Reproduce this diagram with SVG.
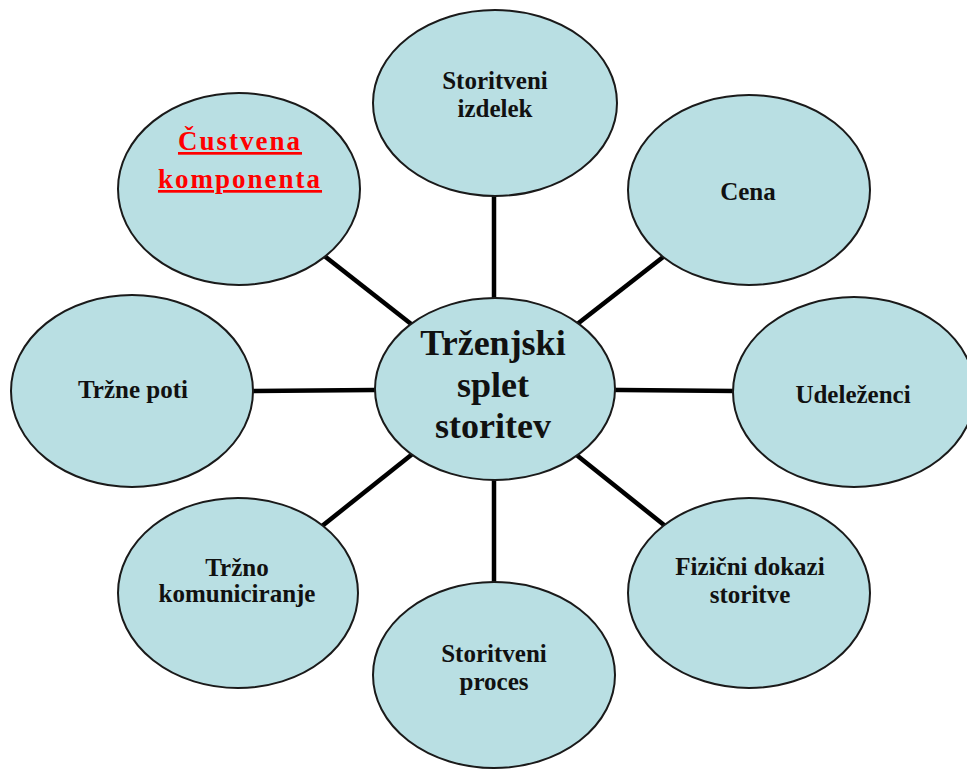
<svg xmlns="http://www.w3.org/2000/svg" width="967" height="769" viewBox="0 0 967 769">
<style>
.n{fill:#b9dfe3;stroke:#1a1a1a;stroke-width:2}
.t{font-family:"Liberation Serif","Times New Roman",serif;font-weight:bold;font-size:25px;fill:#111;text-anchor:middle}
.c{font-size:36px}
.r{fill:#ff0000;font-size:27px;letter-spacing:2px;text-decoration:underline}
.e{stroke:#000;stroke-width:4.5;fill:none}
</style>
<rect width="967" height="769" fill="#fff"/>
<g id="connectors">
<line class="e" x1="494" y1="389" x2="494" y2="103"/>
<line class="e" x1="494" y1="389" x2="749" y2="190"/>
<line class="e" x1="494" y1="389" x2="854" y2="392"/>
<line class="e" x1="494" y1="389" x2="749" y2="593"/>
<line class="e" x1="494" y1="389" x2="494" y2="675"/>
<line class="e" x1="494" y1="389" x2="238" y2="593"/>
<line class="e" x1="494" y1="389" x2="132" y2="392"/>
<line class="e" x1="494" y1="389" x2="239" y2="189"/>
</g>
<g id="izdelek">
<ellipse class="n" cx="495" cy="103" rx="122" ry="93"/>
<text class="t" x="495" y="89">Storitveni</text>
<text class="t" x="495" y="117">izdelek</text>
</g>
<g id="cena">
<ellipse class="n" cx="749" cy="190" rx="121" ry="95"/>
<text class="t" x="748" y="200">Cena</text>
</g>
<g id="udelezenci">
<ellipse class="n" cx="854" cy="392" rx="121" ry="95"/>
<text class="t" x="853" y="403">Udeleženci</text>
</g>
<g id="dokazi">
<ellipse class="n" cx="749" cy="593" rx="121" ry="95"/>
<text class="t" x="750" y="575">Fizični dokazi</text>
<text class="t" x="750" y="603">storitve</text>
</g>
<g id="proces">
<ellipse class="n" cx="494" cy="675" rx="121" ry="93"/>
<text class="t" x="494" y="662">Storitveni</text>
<text class="t" x="494" y="690">proces</text>
</g>
<g id="komuniciranje">
<ellipse class="n" cx="238" cy="593" rx="120" ry="95"/>
<text class="t" x="237" y="576">Tržno</text>
<text class="t" x="237" y="602">komuniciranje</text>
</g>
<g id="poti">
<ellipse class="n" cx="132" cy="391" rx="121" ry="96"/>
<text class="t" x="133" y="398">Tržne poti</text>
</g>
<g id="custvena">
<ellipse class="n" cx="239" cy="189" rx="121" ry="96"/>
<text class="t r" x="240" y="150">Čustvena</text>
<text class="t r" x="240" y="188">komponenta</text>
</g>
<g id="center">
<ellipse class="n" cx="495" cy="389" rx="120" ry="91"/>
<text class="t c" x="493" y="355">Trženjski</text>
<text class="t c" x="493" y="397">splet</text>
<text class="t c" x="493" y="438">storitev</text>
</g>
</svg>
